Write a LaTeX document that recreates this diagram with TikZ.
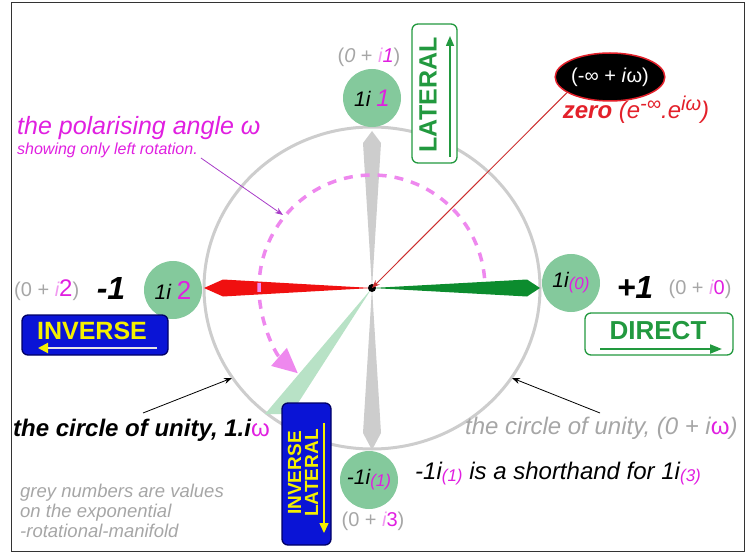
\documentclass[tikz,border=0pt]{standalone}
\usepackage{fontspec}
\setmainfont{Liberation Sans}
\usetikzlibrary{arrows.meta,positioning,shapes.geometric}
\definecolor{unitgrey}{HTML}{CDCDCD}
\definecolor{nodegreen}{HTML}{84C99C}
\definecolor{palegreen}{HTML}{B8E2C6}
\definecolor{mag}{HTML}{E01FE0}
\definecolor{lightmag}{HTML}{EE88EE}
\definecolor{pointmag}{HTML}{A83CC8}
\definecolor{boxgreen}{HTML}{22993F}
\definecolor{needlegreen}{HTML}{0C8C2E}
\definecolor{needlered}{HTML}{F01010}
\definecolor{zeroline}{HTML}{CC3030}
\definecolor{inkblue}{HTML}{0A14D6}
\definecolor{zerored}{HTML}{E3202A}
\definecolor{txtgrey}{HTML}{A6A6A6}
\definecolor{signyellow}{HTML}{F5F000}
\newcommand{\fs}[1]{\fontsize{#1}{#1}\selectfont}
\newcommand{\mg}[1]{\textcolor{mag}{#1}}
\newcommand{\lowmg}[1]{\raisebox{-2pt}{\fs{17}\textcolor{mag}{\itshape #1}}}
\newcommand{\gi}{\textcolor{mag!45}{\itshape i}}

\begin{document}
\begin{tikzpicture}[x=1pt,y=-1pt,>={Stealth[length=8pt,width=6pt]},
 every node/.style={inner sep=0pt},
 unit/.style={circle,fill=nodegreen,minimum size=58pt,font=\fs{21}\itshape},
 greynum/.style={text=txtgrey,font=\fs{20}},
 signlab/.style={font=\fs{32}\bfseries\itshape},
 dirbox/.style={rounded corners=6pt,line width=1.3pt},
 boxword/.style={font=\fs{25}\bfseries}]
\useasboundingbox (0,0) rectangle (749,553);
\draw[black!80,line width=1pt] (11.5,3) rectangle (744,551);

% circle of unity and needles
\coordinate (c) at (372,288);
\draw[unitgrey,line width=3pt] (c) ellipse [x radius=168,y radius=161];
\fill[unitgrey] (c) -- (363,143) -- (372,131) -- (381,143) -- cycle;
\fill[unitgrey] (c) -- (363,433) -- (372,450) -- (381,433) -- cycle;
\fill[needlered] (c) -- (223,279.5) -- (204,288) -- (223,296.5) -- cycle;
\fill[needlegreen] (c) -- (527,279.5) -- (540,288) -- (527,296.5) -- cycle;
\fill[palegreen] (c) -- (265,414) -- (291,414) -- cycle;
\draw[lightmag,line width=3.5pt,dash pattern=on 9pt off 8pt,
 -{Triangle[length=25pt,width=23pt]}] (c) ++(-5:113) arc[start angle=-5,end angle=-229,radius=113];
\fill[black] (c) circle [radius=4];

% nodes on the circle
\node[unit] (n1) at (372,98) {1i \mg{\fs{24}1}};
\node[unit] (n2) at (173,290) {1i \mg{\fs{26}\upshape 2}};
\node[unit] (n0) at (571,283) {1i\lowmg{(0)}};
\node[unit] (n3) at (369,480) {-1i\lowmg{(1)}};
\node[greynum] (g1) at (369,57) {(\textit{0} + \gi\mg{\textit{1}})};
\node[greynum,anchor=west] (g2) at (14,290) {(0 + \gi\mg{\fs{24}2})};
\node[greynum] (g0) at (700,289) {(0 + \gi\mg{0})};
\node[greynum] (g3) at (373,521) {(0 + \gi\mg{3})};
\node[signlab] (minus) at (111,288) {-1};
\node[signlab] (plus) at (635,287) {+1};

% zero
\node[ellipse,fill=black,draw=zerored,line width=1.5pt,minimum width=104pt,
 minimum height=48pt,text=white,font=\fs{20}] (zeroell) at (610,77) {(-∞ + \textit{i}ω)};
\node[text=zerored,font=\fs{24}\itshape] (zerotxt) at (636,110)
 {\textbf{zero} (e\raisebox{8pt}{\fs{20}-∞}.e\raisebox{8pt}{\fs{20}iω})};
\draw[zeroline,line width=1pt,->] (zeroell.200) -- (c);

% direction boxes
\node[dirbox,draw=boxgreen,fill=white,minimum width=45pt,minimum height=139pt] (latbox) at (434.5,93.5) {};
\node[boxword,text=boxgreen,rotate=90] (lattxt) at (428,95) {LATERAL};
\coordinate (latA) at (450,157); \coordinate (latB) at (450,36);
\draw[boxgreen,line width=1.5pt,-{Triangle[length=10pt,width=8pt]}] (latA) -- (latB);

\node[dirbox,draw=blue!40!black,fill=inkblue,minimum width=146pt,minimum height=40pt] (invbox) at (95,335) {};
\node[boxword,text=signyellow] (invtxt) at (92,331) {INVERSE};
\coordinate (invA) at (157,348); \coordinate (invB) at (38,348);
\draw[gray!20,line width=2pt,-{Triangle[length=10pt,width=10pt,color=signyellow]}] (invA) -- (invB);

\node[dirbox,draw=boxgreen,fill=white,minimum width=148pt,minimum height=42pt] (dirbox) at (659,334) {};
\node[boxword,font=\fs{26}\bfseries,text=boxgreen] (dirtxt) at (658,331) {DIRECT};
\coordinate (dirA) at (600,349); \coordinate (dirB) at (722,349);
\draw[boxgreen,line width=2pt,-{Triangle[length=12pt,width=9pt]}] (dirA) -- (dirB);

\node[dirbox,draw=blue!40!black,fill=inkblue,minimum width=49pt,minimum height=142pt] (ilbox) at (306.5,474) {};
\node[text=signyellow,rotate=90,align=center,font=\fontsize{19}{17}\selectfont\bfseries] (iltxt) at (303,473) {INVERSE\\LATERAL};
\coordinate (ilA) at (324,423); \coordinate (ilB) at (324,533);
\draw[signyellow,line width=1.5pt,-{Triangle[length=10pt,width=9pt]}] (ilA) -- (ilB);

% texts
\node[anchor=base west,text=mag,font=\fs{25}\itshape] (polar) at (17,135) {the polarising angle ω};
\node[anchor=base west,text=mag,font=\fs{16}\itshape] (rotnote) at (17,155) {showing only left rotation.};
\coordinate (arcpt) at (283,215);
\draw[pointmag,line width=0.8pt,->] ([shift={(3,3)}]rotnote.base east) -- (arcpt);

\node[anchor=base west,font=\fs{24}\bfseries\itshape] (culeft) at (13,436)
 {the circle of unity, 1.i\textcolor{mag}{\mdseries\upshape ω}};
\node[anchor=base west,text=txtgrey,font=\fs{24}\itshape] (curight) at (465,434)
 {the circle of unity, (0 + i\textcolor{mag}{\upshape ω})};
\coordinate (cuLtip) at (232,378); \coordinate (cuRtip) at (512,378);
\draw[black,line width=0.8pt,->] (143,413) -- (cuLtip);
\draw[black,line width=0.8pt,->] (600,413) -- (cuRtip);

\node[anchor=base west,font=\fs{24}\itshape] (shorthand) at (415,479)
 {-1i\lowmg{(1)} is a shorthand for 1i\lowmg{(3)}};
\node[anchor=north west,text=txtgrey,align=left,font=\fontsize{18.5}{20}\selectfont\itshape] (greynote) at (20,484)
 {grey numbers are values\\on the exponential\\-rotational-manifold};
\end{tikzpicture}
\end{document}
